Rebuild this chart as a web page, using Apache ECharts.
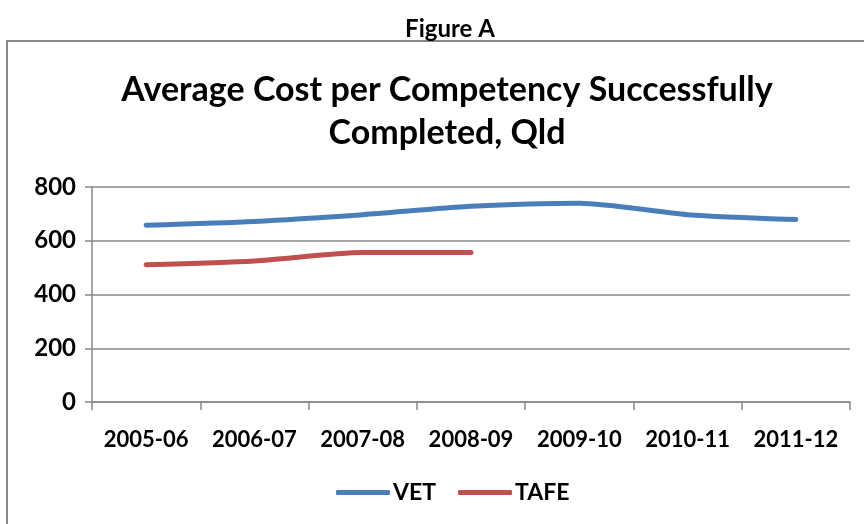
<!DOCTYPE html>
<html>
<head>
<meta charset="utf-8">
<script src="https://cdn.jsdelivr.net/npm/echarts@6/dist/echarts.min.js"></script>
<style>
  html, body { margin: 0; padding: 0; background: #fff; }
  #main { width: 864px; height: 524px; }
</style>
</head>
<body>
<div id="main"></div>
<script>
// data
var years = ['2005-06', '2006-07', '2007-08', '2008-09', '2009-10', '2010-11', '2011-12'];
var vet = [658, 672, 697, 728, 740, 697, 679];
var tafe = [511, 525, 556, 556];
var yTicks = [0, 200, 400, 600, 800];

var font = 'Lato';
var chart = echarts.init(document.getElementById('main'));

var option = {
  backgroundColor: '#fff',
  animation: false,
  title: [
    {
      text: 'Figure A',
      left: 445, top: 12, textAlign: 'center',
      textStyle: { fontFamily: font, fontWeight: 'bold', fontSize: 24, color: '#000' }
    },
    {
      text: 'Average Cost per Competency Successfully\nCompleted, Qld',
      left: 442, top: 64, textAlign: 'center',
      textStyle: { fontFamily: font, fontWeight: 'bold', fontSize: 34, lineHeight: 43, color: '#000' }
    }
  ],
  graphic: [
    {
      type: 'rect',
      shape: { x: 7, y: 41, width: 870, height: 500 },
      style: { fill: 'none', stroke: '#888', lineWidth: 2 },
      silent: true
    }
  ],
  legend: {
    bottom: 15, left: 331,
    itemWidth: 54, itemHeight: 5, itemGap: 22,
    icon: 'roundRect',
    textStyle: { fontFamily: font, fontWeight: 'bold', fontSize: 23, color: '#000', padding: [0, 0, 0, -2] },
    data: ['VET', 'TAFE']
  },
  grid: { left: 92, right: 14, top: 187, bottom: 122 },
  xAxis: {
    type: 'category',
    data: years,
    boundaryGap: true,
    axisLine: { lineStyle: { color: '#888', width: 1.5 } },
    axisTick: { show: true, interval: 0, length: 8, lineStyle: { color: '#888', width: 1.5 } },
    axisLabel: { interval: 0, fontFamily: font, fontWeight: 'bold', fontSize: 22, color: '#000', margin: 27 }
  },
  yAxis: {
    type: 'value',
    min: yTicks[0], max: yTicks[yTicks.length - 1], interval: 200,
    axisLine: { show: true, lineStyle: { color: '#888', width: 1.5 } },
    axisTick: { show: true, length: 7, lineStyle: { color: '#888', width: 1.5 } },
    splitLine: { lineStyle: { color: '#888', width: 1.5 } },
    axisLabel: { fontFamily: font, fontWeight: 'bold', fontSize: 24, color: '#000', margin: 16 }
  },
  series: [
    {
      name: 'VET', type: 'line', data: vet,
      smooth: 0.25, showSymbol: false, symbol: 'none',
      itemStyle: { color: '#4a7ebb' },
      lineStyle: { color: '#4a7ebb', width: 5, cap: 'round' }
    },
    {
      name: 'TAFE', type: 'line', data: tafe,
      smooth: 0.25, showSymbol: false, symbol: 'none',
      itemStyle: { color: '#c0504d' },
      lineStyle: { color: '#c0504d', width: 5, cap: 'round' }
    }
  ]
};

chart.setOption(option);
</script>
</body>
</html>
